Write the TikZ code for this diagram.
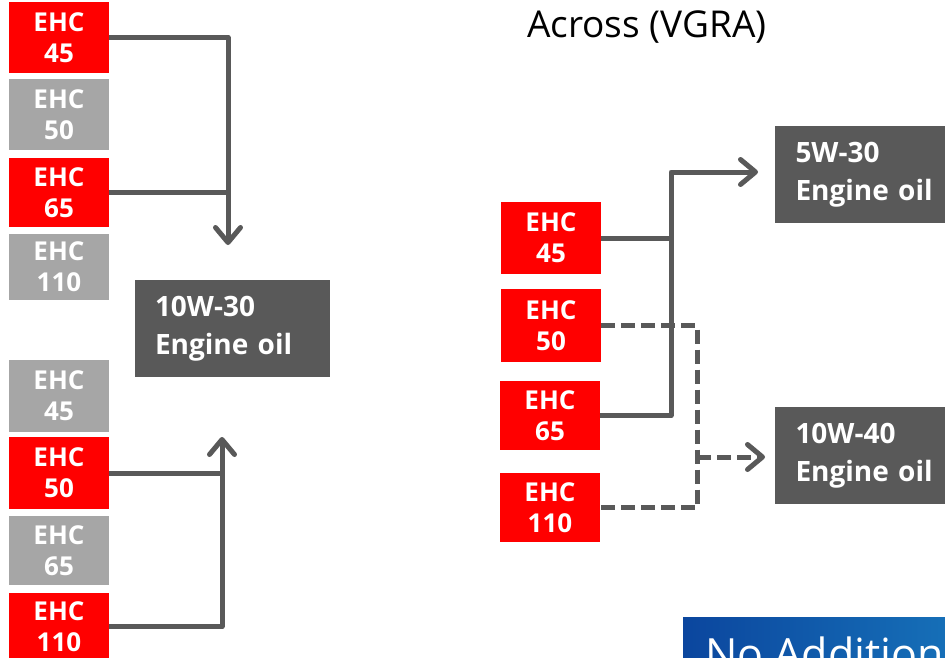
\documentclass[tikz,border=0pt]{standalone}
\usepackage{fontspec}
\setmainfont{Open Sans}
\usetikzlibrary{arrows.meta}
\definecolor{ehcred}{HTML}{FF0000}
\definecolor{ehcgray}{HTML}{A6A6A6}
\definecolor{oilgray}{HTML}{595959}
\definecolor{blueL}{HTML}{0B469E}
\definecolor{blueR}{HTML}{1670B8}
\begin{document}
\begin{tikzpicture}[x=1pt,y=-1pt,
  ehc/.style={minimum width=100pt, inner sep=0pt, text=white,
    font=\fontsize{26}{31}\selectfont\bfseries, align=center},
  ehcon/.style={ehc, fill=ehcred},
  ehcoff/.style={ehc, fill=ehcgray},
  oil/.style={fill=oilgray, text=white, font=\fontsize{28}{37.5}\selectfont\bfseries,
    align=left, inner ysep=0pt, inner xsep=20pt, text width=155pt, minimum height=97pt},
  conn/.style={draw=oilgray, line width=5pt, line join=round},
  dashconn/.style={conn, dash pattern=on 14pt off 6pt},
  tip/.style={-{Straight Barb[length=15pt,width=25pt,round]}}
]
\useasboundingbox (0,0) rectangle (945,657);
\fill[white] (0,0) rectangle (945,657);

% left column, top
\node[ehcon,  minimum height=71pt] (L1) at (59,37.5)  {EHC\\45};
\node[ehcoff, minimum height=71pt] (L2) at (59,114.5) {EHC\\50};
\node[ehcon,  minimum height=69pt] (L3) at (59,192.5) {EHC\\65};
\node[ehcoff, minimum height=66pt] (L4) at (59,267)   {EHC\\110};
% left column, bottom
\node[ehcoff, minimum height=72pt] (B1) at (59,396)   {EHC\\45};
\node[ehcon,  minimum height=72pt] (B2) at (59,473)   {EHC\\50};
\node[ehcoff, minimum height=69pt] (B3) at (59,550.5) {EHC\\65};
\node[ehcon,  minimum height=67pt] (B4) at (59,626.5) {EHC\\110};

\node[oil] (O1) at (232.5,328.5) {10W-30\\Engine oil};

\coordinate (jt) at (228,245);
\coordinate (jb) at (222,437);
\draw[conn,tip] (L1.east) -| (jt);
\draw[conn] (L3.east) -- (L3.east -| jt);
\draw[conn,tip] (B4.east) -| (jb);
\draw[conn] (B2.east) -- (B2.east -| jb);

% right side
\node[font=\fontsize{37}{42}\selectfont, anchor=base west, inner sep=0pt] (title) at (527,37) {Across (VGRA)};

\node[ehcon, minimum height=72pt] (R1) at (551,238)   {EHC\\45};
\node[ehcon, minimum height=73pt] (R2) at (551,325.5) {EHC\\50};
\node[ehcon, minimum height=69pt] (R3) at (550,415.5) {EHC\\65};
\node[ehcon, minimum height=69pt] (R4) at (550,507.5) {EHC\\110};

\node[oil, inner xsep=21pt] (O2) at (873,174.5) {5W-30\\Engine oil};
\node[oil, inner xsep=21pt] (O3) at (873,455.5) {10W-40\\Engine oil};

\coordinate (j1) at (671,172);
\coordinate (a1) at (758,172);
\draw[conn] (R1.east) -- (R1.east -| j1);
\draw[conn,tip] (R3.east) -| (j1) -- (a1);

\coordinate (j2) at (697,457);
\coordinate (a2) at (765,457);
\draw[dashconn] (R2.east) -- (R2.east -| j2) |- (R4.east);
\draw[dashconn,tip] (j2) -- (a2);

% blue banner (cut off by the picture's lower edge, as in the original)
\node[anchor=north west, minimum width=270pt, minimum height=60pt, inner sep=0pt,
  left color=blueL, right color=blueR, draw=none] (banner) at (683,617) {};
\node[anchor=base west, text=white, inner sep=0pt, font=\fontsize{43}{43}\selectfont] (bannertext) at (705,669) {No Additional};
\end{tikzpicture}
\end{document}
